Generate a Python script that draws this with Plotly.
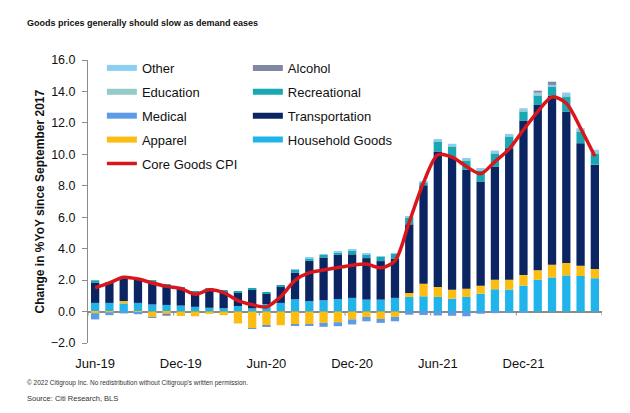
import plotly.graph_objects as go

months = ["Jun-19", "Jul-19", "Aug-19", "Sep-19", "Oct-19", "Nov-19",
          "Dec-19", "Jan-20", "Feb-20", "Mar-20", "Apr-20", "May-20",
          "Jun-20", "Jul-20", "Aug-20", "Sep-20", "Oct-20", "Nov-20",
          "Dec-20", "Jan-21", "Feb-21", "Mar-21", "Apr-21", "May-21",
          "Jun-21", "Jul-21", "Aug-21", "Sep-21", "Oct-21", "Nov-21",
          "Dec-21", "Jan-22", "Feb-22", "Mar-22", "Apr-22", "May-22"]
tick_labels = ["Jun-19", "Dec-19", "Jun-20", "Dec-20", "Jun-21", "Dec-21"]

household = [0.55, 0.55, 0.52, 0.55, 0.45, 0.42, 0.38, 0.30, 0.24, 0.21, 0.35, 0.20,
             0.48, 0.55, 0.78, 0.66, 0.72, 0.80, 0.87, 0.76, 0.76, 0.87, 0.93, 0.97,
             0.93, 0.82, 0.93, 1.14, 1.42, 1.40, 1.65, 2.03, 2.17, 2.30, 2.26, 2.12]
apparel = [-0.10, -0.05, 0.15, -0.05, -0.35, -0.12, -0.28, -0.30, -0.15, -0.23, -0.76, -1.05,
           -0.90, -0.87, -0.82, -0.82, -0.72, -0.68, -0.50, -0.34, -0.47, -0.34, 0.25, 0.80,
           0.63, 0.57, 0.52, 0.50, 0.61, 0.63, 0.67, 0.59, 0.80, 0.79, 0.65, 0.59]
medical = [-0.40, -0.18, -0.12, -0.12, -0.05, 0.0, 0.0, 0.0, 0.0, 0.0, 0.0, -0.05,
           -0.05, 0.0, -0.08, -0.10, -0.25, -0.25, -0.32, -0.28, -0.25, -0.28, -0.20, -0.22,
           -0.25, -0.27, -0.30, -0.14, -0.10, -0.05, -0.03, 0.0, 0.0, 0.0, 0.0, 0.0]
transportation = [1.30, 1.28, 1.43, 1.49, 1.40, 1.25, 1.10, 0.92, 1.19, 1.09, 0.89, 1.20,
                  0.67, 1.05, 1.70, 2.57, 2.72, 2.80, 2.77, 2.64, 2.45, 2.50, 4.37, 6.27,
                  8.62, 8.48, 7.56, 6.63, 7.19, 8.36, 9.83, 10.52, 10.75, 9.64, 7.80, 6.63]
recreational = [0.14, 0.05, 0.05, 0.04, 0.15, 0.08, 0.07, 0.05, 0.05, 0.05, 0.05, 0.05,
                0.05, 0.05, 0.18, 0.16, 0.16, 0.18, 0.26, 0.24, 0.26, 0.31, 0.46, 0.15,
                0.64, 0.63, 0.60, 0.70, 0.85, 0.74, 0.57, 0.63, 0.60, 0.95, 0.74, 0.74]
education = [0.0, 0.0, 0.0, 0.0, 0.0, 0.0, 0.0, 0.0, 0.0, 0.0, 0.0, 0.0,
             0.0, 0.0, 0.0, 0.0, 0.0, 0.0, 0.0, 0.0, 0.0, 0.0, 0.0, 0.03,
             0.05, 0.05, 0.05, 0.05, 0.05, 0.05, 0.05, 0.05, 0.05, 0.05, 0.05, 0.05]
other = [0.0, 0.0, 0.0, 0.0, 0.0, 0.0, 0.0, 0.0, 0.0, 0.0, 0.0, 0.0,
         0.0, 0.0, 0.04, 0.04, 0.04, 0.04, 0.04, 0.04, 0.04, 0.04, 0.04, 0.03,
         0.05, 0.12, 0.10, 0.10, 0.12, 0.12, 0.16, 0.10, 0.05, 0.20, 0.16, 0.16]
alcohol = [0.0, 0.0, 0.0, 0.0, 0.0, -0.15, 0.0, 0.0, 0.0, 0.0, 0.0, 0.0,
           0.0, 0.0, 0.0, 0.0, 0.0, 0.0, 0.0, 0.0, 0.0, 0.0, 0.0, 0.0,
           0.0, 0.0, 0.0, 0.0, 0.0, 0.0, 0.0, 0.13, 0.20, 0.0, 0.0, 0.0]
core_goods = [1.50, 1.82, 2.18, 2.07, 1.82, 1.60, 1.47, 1.10, 1.38, 1.20, 0.70, 0.44,
              0.30, 0.95, 1.98, 2.47, 2.64, 2.80, 2.95, 3.02, 2.78, 3.22, 5.70, 8.20,
              9.97, 9.82, 9.23, 8.76, 9.54, 10.33, 11.56, 12.72, 13.65, 13.25, 11.66, 9.88]

colors = {
    "Other": "#8DCDF0",
    "Alcohol": "#7F87A2",
    "Education": "#93CBC8",
    "Recreational": "#17A8B4",
    "Medical": "#5E9BE6",
    "Transportation": "#0B2462",
    "Apparel": "#FBBD12",
    "Household Goods": "#21B4EA",
    "Core Goods CPI": "#D9161C",
}

# stacking order (bottom -> top)
series = [
    ("Household Goods", household),
    ("Apparel", apparel),
    ("Medical", medical),
    ("Transportation", transportation),
    ("Recreational", recreational),
    ("Education", education),
    ("Other", other),
    ("Alcohol", alcohol),
]

# legend layout: (name, legend id, rank)
legend_items = [
    ("Other", "legend", 1), ("Education", "legend", 2), ("Medical", "legend", 3),
    ("Apparel", "legend", 4),
    ("Alcohol", "legend2", 1), ("Recreational", "legend2", 2),
    ("Transportation", "legend2", 3), ("Household Goods", "legend2", 4),
]

FONT = "Arial, Liberation Sans, sans-serif"

fig = go.Figure()
for name, vals in series:
    fig.add_trace(go.Bar(x=months, y=vals, name=name, marker_color=colors[name],
                         marker_line_width=0, showlegend=False))

fig.add_trace(go.Scatter(x=months, y=core_goods, mode="lines", name="Core Goods CPI",
                         line=dict(color=colors["Core Goods CPI"], width=3.5,
                                   shape="spline", smoothing=0.8),
                         legend="legend", legendgroup="core", legendrank=5))

for name, lg, rank in legend_items:
    fig.add_trace(go.Scatter(x=[None], y=[None], mode="lines", name=name,
                             line=dict(color=colors[name], width=6),
                             legend=lg, legendgroup=name, legendrank=rank))

# tick marks on the zero line at period boundaries
n = len(months)
boundaries = [i - 0.5 for i in range(0, n + 1, 6)]
for b in boundaries:
    fig.add_shape(type="line", xref="x", yref="y", x0=b, x1=b, y0=0, y1=-0.25,
                  line=dict(color="#8c8c8c", width=1))

legend_common = dict(xanchor="left", yanchor="top", y=1.025, bgcolor="rgba(0,0,0,0)",
                     font=dict(family=FONT, size=13, color="#111"),
                     tracegroupgap=4, itemwidth=30, traceorder="grouped")

fig.update_layout(
    width=630, height=413,
    margin=dict(l=88, r=28, t=60, b=70),
    paper_bgcolor="white", plot_bgcolor="white",
    barmode="relative", bargap=0.42,
    font=dict(family=FONT, color="#111"),
    legend=dict(x=0.027, **legend_common),
    legend2=dict(x=0.311, **legend_common),
    xaxis=dict(type="category", range=[-0.5, n - 0.5], tickmode="array",
               tickvals=tick_labels, ticktext=tick_labels, ticks="",
               showline=False, showgrid=False, zeroline=False,
               tickfont=dict(family=FONT, size=13, color="#111"),
               ticklabelstandoff=11),
    yaxis=dict(range=[-2, 16], dtick=2, tick0=0, tickformat=".1f",
               showline=True, linecolor="#8c8c8c", linewidth=1,
               ticks="outside", ticklen=5, tickcolor="#8c8c8c",
               showgrid=False, zeroline=True, zerolinecolor="#8c8c8c",
               zerolinewidth=1.5,
               tickfont=dict(family=FONT, size=12.5, color="#111"),
               ticklabelstandoff=4),
)

fig.add_annotation(xref="paper", yref="paper", x=-0.1226, y=1.1305,
                   text="<b>Goods prices generally should slow as demand eases</b>",
                   showarrow=False, xanchor="left", yanchor="middle",
                   font=dict(family=FONT, size=9, color="#111"))
fig.add_annotation(xref="paper", yref="paper", x=-0.0934, y=0.5,
                   text="<b>Change in %YoY since September 2017</b>",
                   textangle=-90, showarrow=False, xanchor="center", yanchor="middle",
                   font=dict(family=FONT, size=12, color="#111"))
fig.add_annotation(xref="paper", yref="paper", x=-0.1226, y=-0.143,
                   text="© 2022 Citigroup Inc. No redistribution without Citigroup's written permission.",
                   showarrow=False, xanchor="left", yanchor="middle",
                   font=dict(family=FONT, size=6.5, color="#333"))
fig.add_annotation(xref="paper", yref="paper", x=-0.1226, y=-0.196,
                   text="Source: Citi Research, BLS",
                   showarrow=False, xanchor="left", yanchor="middle",
                   font=dict(family=FONT, size=7.5, color="#333"))

fig.write_html("out.html")
